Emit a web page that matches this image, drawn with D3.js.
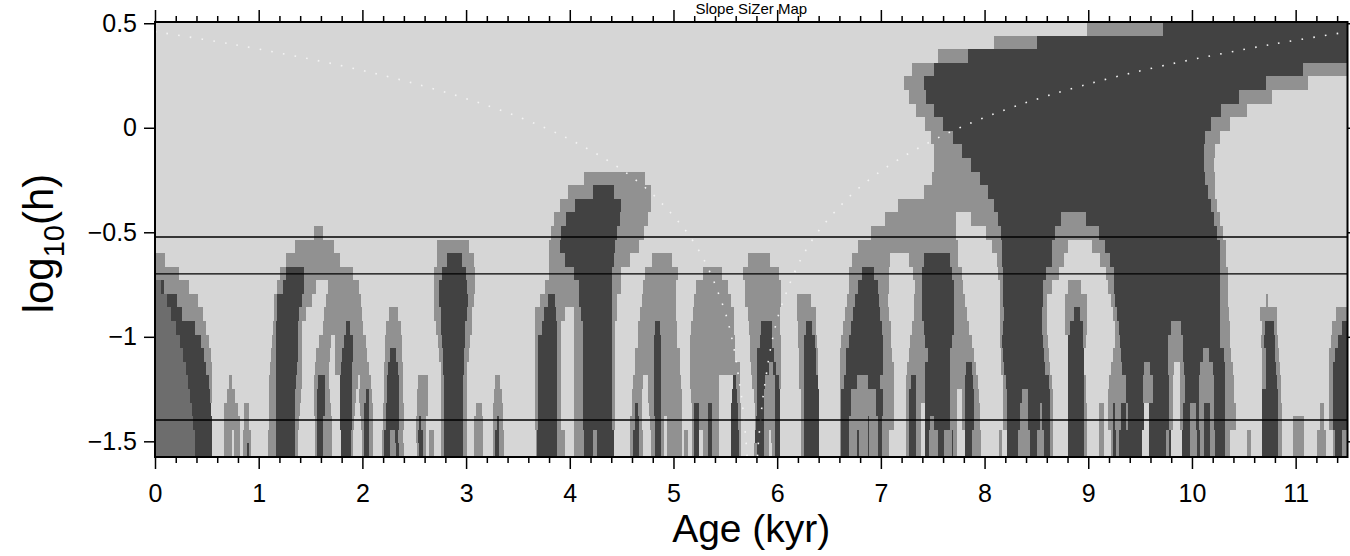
<!DOCTYPE html>
<html>
<head>
<meta charset="utf-8">
<script src="https://cdn.jsdelivr.net/npm/d3@7"></script>
<style>
  body { margin: 0; background: #fff; }
  text { font-family: "Liberation Sans", Arial, Helvetica, sans-serif; }
</style>
</head>
<body>
<div class="canva"></div>
<script>
// ---- data ----
// x extent (kyr) and log10(h) extent of the map
const ageRange = [0, 11.5];
const logHRange = [-1.575, 0.506];

// one string per bandwidth row, top row first.
// token = colour code + age (kyr) where that colour starts
// L = not significant, M = significant (mid grey), D = significant (dark), G = left edge shade
const sizerRows = [
  "L0 M8.99 D9.72",
  "L0 M8.09 D8.51",
  "L0 M7.55 D7.84",
  "L0 M7.30 D7.51 M11.07",
  "L0 M7.22 D7.42 M10.71 L11.12",
  "L0 M7.27 D7.44 M10.45 L10.77",
  "L0 M7.34 D7.51 M10.28 L10.53",
  "L0 M7.43 D7.60 M10.18 L10.37",
  "L0 M7.48 D7.70 M10.13 L10.27",
  "L0 M7.51 D7.78 M10.12 L10.22",
  "L0 M7.51 D7.87 M10.12 L10.21",
  "L0 M4.14 L4.73 M7.49 D7.96 M10.13 L10.22",
  "L0 M3.98 D4.22 M4.43 L4.78 M7.42 D8.03 M10.15 L10.22",
  "L0 M3.91 D4.05 M4.49 L4.78 M7.17 D8.09 M10.18 L10.24",
  "L0 M3.85 D3.96 M4.48 L4.75 M7.04 L7.72 M7.87 D8.13 M8.74 D8.98 M10.21 L10.27",
  "L0 M1.53 L1.62 M3.82 D3.92 M4.46 L4.72 M6.90 L7.72 M8.01 D8.16 M8.68 D9.10 M10.24 L10.30",
  "L0 M1.35 L1.73 M2.72 L3.03 M3.80 D3.91 M4.44 L4.67 M6.78 L7.74 M8.07 D8.17 M8.65 L8.80 M9.04 D9.16 M10.27 L10.33",
  "M0 L0.10 M1.26 L1.78 M2.72 D2.82 M2.96 L3.08 M3.80 D3.95 M4.43 L4.58 M4.79 L4.99 M5.72 L5.93 M6.72 L7.09 M7.27 D7.42 M7.67 L7.74 M8.12 D8.17 M8.65 L8.77 M9.11 D9.21 M10.27 L10.33",
  "M0 L0.23 M1.21 D1.26 M1.44 L1.91 M2.69 D2.77 M3.00 L3.09 M3.80 D4.04 M4.41 L4.49 M4.73 L5.04 M5.28 L5.47 M5.67 L6.02 M6.69 D6.82 M6.93 L7.08 M7.31 D7.40 M7.69 L7.78 M8.13 D8.18 M8.59 L8.72 M9.17 D9.25 M10.27 L10.35",
  "G0 D0.06 M0.09 L0.33 M1.18 D1.23 M1.44 L1.55 M1.67 L1.97 M2.69 D2.74 M3.01 L3.09 M3.76 D4.09 M4.41 L4.49 M4.71 L5.02 M5.22 L5.53 M5.69 L6.04 M6.69 D6.78 M6.97 L7.08 M7.33 D7.40 M7.71 L7.79 M8.15 D8.18 M8.56 L8.65 M8.80 L8.93 M9.19 D9.25 M10.27 L10.35",
  "G0 D0.12 M0.21 L0.41 M1.15 D1.18 M1.42 L1.51 M1.65 L1.99 M2.69 D2.74 M3.02 L3.08 M3.71 D3.79 M3.86 D4.09 M4.41 L4.46 M4.70 L5.02 M5.20 L5.55 M5.69 L6.04 M6.19 L6.33 M6.67 D6.75 M6.98 L7.07 M7.32 D7.40 M7.71 L7.81 M8.15 D8.18 M8.56 L8.60 M8.78 L8.99 M9.22 D9.26 M10.27 L10.35 M10.71 L10.73",
  "G0 D0.15 M0.26 L0.46 M1.15 D1.18 M1.39 L1.46 M1.63 L2.00 M2.26 L2.34 M2.69 D2.76 M3.01 L3.06 M3.66 D3.75 M3.87 L3.95 M4.04 D4.11 M4.41 L4.46 M4.68 L5.02 M5.19 L5.58 M5.72 L6.03 M6.19 L6.37 M6.65 D6.73 M6.99 L7.08 M7.32 D7.40 M7.71 L7.83 M8.15 D8.19 M8.55 L8.60 M8.78 D8.86 M8.92 L8.99 M9.24 D9.28 M10.27 L10.36 M10.66 L10.82 M11.39",
  "G0 D0.20 M0.39 L0.49 M1.14 D1.17 M1.38 L1.42 M1.62 D1.84 M1.88 L2.01 M2.23 L2.37 M2.71 D2.76 M2.99 L3.06 M3.66 D3.73 M3.88 L3.92 M4.04 D4.13 M4.41 L4.44 M4.66 D4.82 M4.87 L5.03 M5.17 L5.58 M5.73 D5.84 M5.95 L6.03 M6.20 D6.28 M6.34 L6.37 M6.63 D6.71 M7.01 L7.10 M7.30 D7.42 M7.71 L7.85 M8.15 D8.18 M8.55 L8.60 M8.78 D8.82 M8.95 L8.99 M9.26 D9.30 M9.80 D9.89 M10.27 L10.37 M10.68 D10.70 M10.79 L10.82 M11.35 D11.45",
  "G0 D0.24 M0.44 L0.52 M1.13 D1.17 M1.38 L1.42 M1.58 L1.70 M1.74 D1.82 M1.91 L2.03 M2.22 L2.38 M2.73 D2.77 M2.99 L3.04 M3.66 D3.69 M3.88 L3.92 M4.04 D4.13 M4.41 L4.44 M4.66 D4.81 M4.88 L5.03 M5.16 L5.59 M5.74 D5.83 M5.95 L6.04 M6.20 D6.26 M6.36 L6.38 M6.62 D6.69 M7.02 L7.10 M7.28 D7.43 M7.69 L7.88 M8.15 D8.17 M8.56 L8.61 D8.80 M8.95 L8.98 M9.26 D9.31 M9.77 D9.91 M10.27 L10.37 M10.67 D10.69 M10.80 L10.83 M11.34 D11.41",
  "G0 D0.27 M0.47 L0.54 M1.12 D1.17 M1.38 L1.42 M1.55 L1.69 M1.74 D1.80 M1.91 L2.04 M2.22 D2.27 M2.32 L2.38 M2.74 D2.78 M2.98 L3.03 M3.66 D3.69 M3.88 L3.92 M4.04 D4.13 M4.41 L4.44 M4.63 D4.81 M4.88 L5.06 M5.16 L5.59 M5.74 D5.81 M5.97 L6.04 M6.21 D6.26 M6.37 L6.39 M6.61 D6.66 M7.02 L7.11 M7.27 D7.45 M7.67 L7.90 M8.16 D8.18 M8.57 L8.62 D8.80 L8.96 M9.24 D9.32 M9.77 D9.91 M10.11 D10.16 M10.31 L10.38 M10.68 D10.71 M10.80 L10.84 M11.32 D11.38",
  "G0 D0.30 M0.49 L0.55 M1.11 D1.17 M1.37 L1.42 M1.54 L1.68 M1.74 D1.79 M1.90 L2.06 M2.21 D2.25 M2.34 L2.39 M2.76 D2.78 M2.98 L3.01 M3.66 D3.69 M3.88 L3.92 M4.04 D4.13 M4.41 L4.44 M4.63 D4.81 M4.88 L5.06 M5.16 L5.64 M5.75 D5.81 M5.92 D5.96 M5.99 L6.04 M6.21 D6.26 M6.37 L6.39 M6.61 D6.66 M7.02 L7.13 M7.25 D7.43 M7.67 D7.82 M7.88 L7.92 M8.16 D8.19 M8.58 L8.63 D8.80 L8.96 M9.22 D9.33 M9.54 D9.60 M9.77 L9.83 M9.88 D9.92 M10.08 D10.20 M10.32 L10.40 M10.68 D10.71 M10.81 L10.85 M11.32 D11.36",
  "G0 D0.32 M0.52 L0.55 M0.71 L0.74 M1.10 D1.17 M1.36 L1.42 M1.53 D1.57 M1.64 L1.68 D1.78 M1.90 L1.96 M1.98 L2.08 M2.21 D2.24 M2.35 L2.39 M2.54 L2.63 M2.76 D2.79 M2.97 L3.01 M3.28 L3.33 M3.66 D3.69 M3.88 L3.92 M4.04 D4.13 M4.41 L4.44 M4.61 L4.71 M4.75 D4.81 M4.88 L5.07 M5.16 L5.44 D5.57 M5.60 L5.64 M5.76 D5.81 M5.88 D5.98 M6.02 L6.04 M6.21 D6.26 L6.39 M6.61 D6.64 M6.77 D6.88 M6.99 L7.13 M7.24 D7.29 M7.34 D7.43 M7.67 D7.81 M7.89 L7.94 M8.18 D8.21 M8.62 L8.65 D8.80 M8.96 L8.98 M9.20 D9.36 M9.53 D9.62 M9.78 L9.82 M9.88 D9.93 M10.07 D10.21 M10.32 L10.41 M10.68 D10.71 M10.82 L10.86 M11.32 D11.36",
  "G0 D0.34 M0.53 L0.55 M0.69 L0.77 M1.10 D1.17 M1.35 L1.41 M1.53 D1.56 M1.64 L1.69 D1.78 M1.90 L1.94 M1.97 D2.03 M2.06 L2.09 M2.21 D2.24 M2.35 L2.39 M2.53 L2.63 M2.76 D2.79 M2.97 L3.01 M3.27 L3.35 M3.66 D3.69 M3.88 L3.92 M4.04 D4.13 M4.41 L4.44 M4.60 L4.70 M4.75 D4.81 M4.88 L5.08 M5.17 L5.44 D5.56 M5.61 L5.64 M5.78 D5.81 M5.87 D5.98 L6.03 M6.23 D6.26 L6.40 M6.61 D6.62 M6.71 D6.95 M7.02 L7.13 M7.24 D7.27 M7.34 D7.43 M7.67 L7.73 M7.78 D7.81 M7.90 L7.95 M8.18 D8.22 M8.36 D8.42 M8.63 L8.66 D8.80 M8.96 L8.98 M9.19 D9.36 M9.53 D9.62 M9.78 L9.82 M9.88 D9.93 M10.07 D10.21 M10.32 L10.41 D10.68 M10.83 L10.86 M11.32 D11.36",
  "G0 D0.36 L0.54 M0.67 L0.80 M0.86 L0.91 M1.10 D1.17 M1.35 L1.40 M1.53 D1.56 M1.64 L1.70 D1.78 M1.90 L1.93 M1.98 D2.02 M2.06 L2.10 M2.20 D2.23 M2.35 L2.40 M2.53 L2.63 M2.76 D2.79 M2.97 L3.01 M3.10 L3.15 M3.26 L3.36 M3.66 D3.69 M3.88 L3.92 M4.04 D4.13 M4.41 L4.44 M4.60 D4.63 M4.66 L4.70 M4.76 D4.81 M4.88 L5.08 M5.18 D5.20 M5.25 D5.33 M5.37 L5.44 D5.55 M5.62 L5.65 M5.79 D5.81 M5.87 D5.98 L6.03 M6.23 D6.26 L6.40 M6.61 D6.62 M6.71 D6.95 M7.02 L7.13 M7.24 D7.27 M7.34 L7.39 D7.43 M7.67 L7.73 M7.78 D7.81 M7.90 L7.96 M8.18 D8.22 M8.34 D8.42 M8.53 D8.55 M8.63 L8.66 D8.80 M8.96 L8.99 M9.10 L9.15 M9.19 D9.24 M9.26 D9.32 M9.36 D9.38 L9.54 D9.59 M9.78 L9.82 M9.88 D9.91 M9.98 D10.04 M10.07 D10.12 M10.17 D10.21 M10.32 L10.42 D10.68 M10.83 L10.87 M11.23 L11.27 M11.32 D11.36",
  "G0 D0.37 L0.55 M0.67 L0.82 M0.86 L0.91 M1.10 D1.17 M1.35 L1.39 M1.54 D1.56 M1.62 L1.71 D1.78 M1.90 L1.92 M1.99 D2.02 M2.06 L2.10 M2.20 D2.23 M2.35 L2.40 M2.52 D2.55 M2.57 L2.61 M2.76 D2.79 M2.97 L3.01 M3.08 L3.16 M3.26 D3.30 M3.32 L3.36 M3.66 D3.69 M3.88 L3.92 M4.04 D4.13 M4.41 L4.44 M4.58 D4.63 M4.67 L4.70 M4.77 D4.82 M4.88 L4.91 M4.94 L5.08 M5.18 D5.20 M5.25 D5.33 M5.37 L5.44 D5.55 M5.62 L5.65 M5.79 D5.80 M5.87 D5.98 L6.03 M6.23 D6.26 L6.40 M6.61 D6.62 M6.69 D6.88 M6.89 D6.97 M7.01 L7.13 M7.24 D7.27 M7.34 L7.39 D7.43 M7.47 D7.51 M7.67 L7.73 M7.78 D7.81 M7.90 L7.96 M8.18 D8.22 M8.34 D8.42 M8.53 D8.55 M8.63 L8.66 D8.80 M8.96 L8.99 M9.10 L9.15 M9.19 D9.24 M9.26 D9.32 M9.36 D9.38 L9.54 D9.59 M9.78 L9.82 M9.88 D9.91 M9.98 D10.04 M10.07 D10.12 M10.17 D10.21 M10.32 L10.42 D10.68 M10.83 L10.87 M10.97 L11.08 M11.23 L11.27 M11.32 D11.36",
  "G0 D0.39 L0.55 M0.67 L0.74 M0.76 L0.82 M0.85 L0.93 M1.09 D1.17 M1.35 L1.38 M1.54 D1.56 M1.62 L1.71 D1.79 M1.89 L1.91 M2.00 D2.02 M2.06 L2.10 M2.19 D2.21 M2.27 D2.31 M2.34 L2.39 M2.52 D2.54 M2.58 L2.61 M2.64 L2.69 M2.76 D2.79 M2.97 L3.01 M3.08 L3.16 M3.26 D3.28 M3.32 L3.37 M3.67 D3.68 M3.88 L3.95 M4.04 D4.14 M4.22 D4.26 L4.43 M4.58 D4.61 M4.67 L4.71 M4.78 D4.82 M4.88 L4.91 M4.94 L5.08 M5.10 L5.14 M5.18 D5.20 L5.25 M5.28 D5.33 M5.37 L5.44 D5.55 M5.63 L5.65 D5.79 M5.87 L5.92 M5.94 D5.98 L6.03 M6.23 D6.26 L6.40 M6.61 D6.62 M6.69 D6.77 M6.79 D6.88 M6.89 D6.97 M7.01 L7.08 M7.24 D7.27 M7.34 L7.39 D7.43 M7.46 D7.55 M7.61 D7.69 M7.70 L7.73 D7.81 M7.88 L7.97 M8.14 L8.17 D8.22 M8.32 D8.44 M8.51 D8.57 M8.63 L8.66 D8.80 M8.96 L8.99 M9.10 L9.15 M9.22 D9.24 M9.27 D9.30 L9.52 D9.59 M9.75 D9.78 L9.80 D9.90 M9.98 D10.05 M10.08 D10.12 M10.17 D10.22 M10.32 L10.37 M10.53 L10.57 D10.68 M10.83 L10.87 M10.97 L11.08 M11.21 L11.29 M11.36 D11.38 M11.45",
  "G0 D0.39 L0.55 M0.67 L0.74 M0.76 L0.82 M0.85 D0.89 M0.91 L0.93 M1.09 D1.17 M1.35 L1.38 M1.54 D1.56 M1.62 L1.71 D1.79 M1.89 L1.91 M2.00 D2.02 M2.06 L2.10 M2.19 D2.21 M2.27 D2.32 M2.35 L2.40 M2.53 D2.55 M2.58 L2.61 M2.64 L2.69 M2.76 D2.79 M2.97 L3.01 M3.08 L3.16 M3.26 D3.28 M3.32 L3.37 M3.67 D3.68 M3.88 L3.95 M4.04 D4.14 M4.22 D4.26 L4.43 M4.58 D4.61 M4.67 L4.71 M4.78 D4.82 M4.88 L4.91 M4.94 L5.08 M5.10 L5.14 M5.18 D5.20 L5.25 M5.28 D5.33 M5.37 L5.44 D5.55 M5.63 L5.65 M5.78 D5.81 M5.87 L5.92 M5.95 D5.98 L6.03 M6.23 D6.26 L6.40 M6.61 D6.62 M6.69 D6.77 M6.79 D6.88 M6.89 D6.97 M7.01 L7.08 M7.24 D7.27 M7.34 L7.39 D7.43 M7.46 D7.55 M7.61 D7.69 M7.70 L7.73 D7.81 M7.88 L7.97 M8.14 L8.17 D8.22 M8.32 D8.44 M8.51 D8.57 M8.63 L8.66 D8.80 M8.96 L8.99 M9.10 L9.15 M9.22 D9.24 M9.27 D9.30 L9.52 D9.59 M9.75 D9.78 L9.80 D9.90 M9.98 D10.05 M10.08 D10.12 M10.17 D10.22 M10.32 L10.37 M10.53 L10.57 D10.68 M10.83 L10.87 M10.97 L11.08 M11.21 L11.29 M11.36 D11.38 M11.45"
];

// white dotted guide curves [age, log10 h]
const guideLeft = [[0.00,0.46],[0.74,0.40],[1.77,0.30],[2.59,0.20],[3.24,0.10],[3.76,0.00],[4.17,-0.10],[4.50,-0.20],[4.76,-0.30],[4.96,-0.40],[5.13,-0.50],[5.26,-0.60],[5.36,-0.70],[5.44,-0.80],[5.51,-0.90],[5.56,-1.00],[5.60,-1.10],[5.63,-1.20],[5.66,-1.30],[5.68,-1.40],[5.70,-1.50],[5.71,-1.575]];
const guideRight = [[11.52,0.46],[10.78,0.40],[9.75,0.30],[8.93,0.20],[8.28,0.10],[7.76,0.00],[7.35,-0.10],[7.02,-0.20],[6.76,-0.30],[6.56,-0.40],[6.39,-0.50],[6.26,-0.60],[6.16,-0.70],[6.08,-0.80],[6.01,-0.90],[5.96,-1.00],[5.92,-1.10],[5.89,-1.20],[5.86,-1.30],[5.84,-1.40],[5.82,-1.50],[5.81,-1.575]];

// bandwidths marked with horizontal lines
const markedH = [0.3, 0.2, 0.04];

const xMajor = [0,1,2,3,4,5,6,7,8,9,10,11];
const yTicks = [0.5, 0, -0.5, -1, -1.5];

const shade = { L: "#d6d6d6", M: "#919191", D: "#424242", G: "#6d6d6d" };

// ---- layout ----
const width = 1350, height = 556;
const margin = { top: 22, right: 2.5, bottom: 99, left: 155 };
const graphWidth = width - margin.left - margin.right;
const graphHeight = height - margin.top - margin.bottom;

const svg = d3.select('.canva').append('svg')
    .attr('width', width)
    .attr('height', height);

const graph = svg.append('g')
    .attr('transform', `translate(${margin.left}, ${margin.top})`);

const x = d3.scaleLinear().domain(ageRange).range([0, graphWidth]);
const y = d3.scaleLinear().domain(logHRange).range([graphHeight, 0]);

// parse the rows into cells
const nRows = sizerRows.length;
const rowStep = (logHRange[1] - logHRange[0]) / nRows;
const cells = [];
sizerRows.forEach((row, i) => {
  const toks = row.trim().split(/\s+/).map(t => ({ c: t[0], x0: +t.slice(1) }));
  const top = logHRange[1] - i * rowStep;
  toks.forEach((t, j) => {
    const x1 = j < toks.length - 1 ? toks[j + 1].x0 : ageRange[1];
    cells.push({ c: t.c, x0: t.x0, x1: x1, hTop: top, hBot: top - rowStep });
  });
});

graph.append('g')
    .attr('shape-rendering', 'crispEdges')
  .selectAll('rect')
  .data(cells)
  .enter().append('rect')
    .attr('x', d => x(d.x0))
    .attr('width', d => Math.max(0, x(d.x1) - x(d.x0)))
    .attr('y', d => y(d.hTop))
    .attr('height', d => y(d.hBot) - y(d.hTop))
    .attr('fill', d => shade[d.c]);

// clip for guides
svg.append('defs').append('clipPath').attr('id', 'plotclip')
  .append('rect').attr('width', graphWidth).attr('height', graphHeight);

const guide = d3.line()
    .x(d => x(d[0]))
    .y(d => y(d[1]))
    .curve(d3.curveCatmullRom);

graph.append('g').attr('clip-path', 'url(#plotclip)')
  .selectAll('path')
  .data([guideLeft, guideRight])
  .enter().append('path')
    .attr('d', guide)
    .attr('fill', 'none')
    .attr('stroke', '#f4f4f4')
    .attr('stroke-width', 1.6)
    .attr('stroke-dasharray', '1.6 10.2');

// horizontal bandwidth lines
graph.selectAll('line.hmark')
  .data(markedH)
  .enter().append('line')
    .attr('class', 'hmark')
    .attr('x1', 0).attr('x2', graphWidth)
    .attr('y1', d => y(Math.log10(d)))
    .attr('y2', d => y(Math.log10(d)))
    .attr('stroke', '#000')
    .attr('stroke-width', 1.4);

// axes
const xMinor = d3.range(0, 11.5001, 0.2).filter(v => Math.abs(v - Math.round(v)) > 1e-6);

function styleAxis(g) {
  g.select('.domain').remove();
  g.selectAll('.tick line').attr('stroke', '#000').attr('stroke-width', 1.5);
  g.selectAll('text').attr('fill', '#000').style('font-size', '25px');
}

graph.append('g')
    .attr('transform', `translate(0, ${graphHeight})`)
    .call(d3.axisBottom(x).tickValues(xMajor).tickSize(12).tickPadding(15).tickFormat(d3.format('d')))
    .call(styleAxis);
graph.append('g')
    .attr('transform', `translate(0, ${graphHeight})`)
    .call(d3.axisBottom(x).tickValues(xMinor).tickSize(6).tickFormat(''))
    .call(styleAxis);
graph.append('g')
    .call(d3.axisTop(x).tickValues(xMajor).tickSize(12).tickFormat(''))
    .call(styleAxis);
graph.append('g')
    .call(d3.axisTop(x).tickValues(xMinor).tickSize(6).tickFormat(''))
    .call(styleAxis);
graph.append('g')
    .call(d3.axisLeft(y).tickValues(yTicks).tickSize(11).tickPadding(7).tickFormat(d3.format('~g')))
    .call(styleAxis);
graph.append('g')
    .attr('transform', `translate(${graphWidth}, 0)`)
    .call(d3.axisRight(y).tickValues(yTicks).tickSize(11).tickFormat(''))
    .call(styleAxis);

// frame
graph.append('rect')
    .attr('width', graphWidth)
    .attr('height', graphHeight)
    .attr('fill', 'none')
    .attr('stroke', '#000')
    .attr('stroke-width', 2);

// titles
svg.append('text')
    .attr('x', margin.left + graphWidth / 2)
    .attr('y', 14)
    .attr('text-anchor', 'middle')
    .style('font-size', '15px')
    .text('Slope SiZer Map');

svg.append('text')
    .attr('x', margin.left + graphWidth / 2)
    .attr('y', 542)
    .attr('text-anchor', 'middle')
    .style('font-size', '39px')
    .text('Age (kyr)');

const yl = svg.append('text')
    .attr('transform', `translate(53, ${margin.top + graphHeight / 2 + 4}) rotate(-90)`)
    .attr('text-anchor', 'middle')
    .style('font-size', '42px');
yl.append('tspan').text('log');
yl.append('tspan').attr('dy', 11).style('font-size', '29px').text('10');
yl.append('tspan').attr('dy', -11).text('(h)');
</script>
</body>
</html>
